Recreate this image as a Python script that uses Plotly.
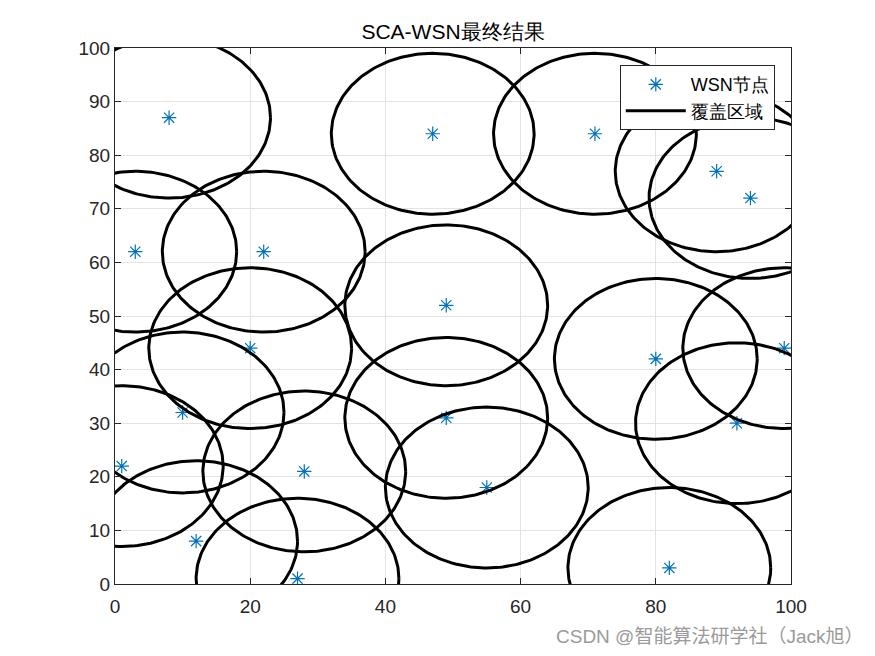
import numpy as np
import plotly.graph_objects as go

node_x = [8, 3, 22, 20, 10, 1, 12, 28, 27, 47, 49, 49, 55, 71, 89, 94, 80, 99, 92, 82]
node_y = [87, 62, 62, 44, 32, 22, 8, 21, 1, 84, 52, 31, 18, 84, 77, 72, 42, 44, 30, 3]
radius = 15

theta = np.linspace(0, 2 * np.pi, 241)
cx, cy = [], []
for x, y in zip(node_x, node_y):
    cx += list(x + radius * np.cos(theta)) + [None]
    cy += list(y + radius * np.sin(theta)) + [None]

fig = go.Figure()
fig.add_trace(go.Scatter(
    x=node_x, y=node_y, mode="markers", name="WSN节点",
    marker=dict(symbol="asterisk-open", size=12, color="#0072BD",
                line=dict(color="#0072BD", width=1.2)),
))
fig.add_trace(go.Scatter(
    x=cx, y=cy, mode="lines", name="覆盖区域",
    line=dict(color="black", width=3),
))

axis_common = dict(
    showline=True, linecolor="#262626", linewidth=1, mirror="ticks",
    ticks="inside", ticklen=6, tickcolor="#262626",
    showgrid=True, gridcolor="#e3e3e3", gridwidth=1, zeroline=False,
    tickfont=dict(family="Liberation Sans, Arial", size=19, color="#262626"),
)
fig.update_xaxes(range=[0, 100], dtick=20, ticklabelstandoff=5, **axis_common)
fig.update_yaxes(range=[0, 100], dtick=10, **axis_common)

W, H = 867, 648
fig.update_layout(
    width=W, height=H,
    margin=dict(l=107, r=84, t=40, b=72),
    paper_bgcolor="white", plot_bgcolor="white",
    title=dict(text="SCA-WSN最终结果", x=(107 + 338) / W, xanchor="center",
               y=(H - 24) / H, yanchor="middle",
               font=dict(family="Liberation Sans, Arial", size=21, color="black")),
    legend=dict(x=0.976, y=0.968, xanchor="right", yanchor="top",
                bgcolor="white", bordercolor="#262626", borderwidth=1,
                itemwidth=60,
                font=dict(family="Liberation Sans, Arial", size=18, color="black")),
    showlegend=True,
)
fig.add_annotation(
    text="CSDN @智能算法研学社（Jack旭）", xref="paper", yref="paper",
    x=(865 - 115) / 676, y=(584 - 636) / 536, xanchor="right", yanchor="middle",
    showarrow=False,
    font=dict(family="Liberation Sans, Noto Sans CJK SC", size=19, color="#9a9a9a"),
)
fig.write_html("out.html")
